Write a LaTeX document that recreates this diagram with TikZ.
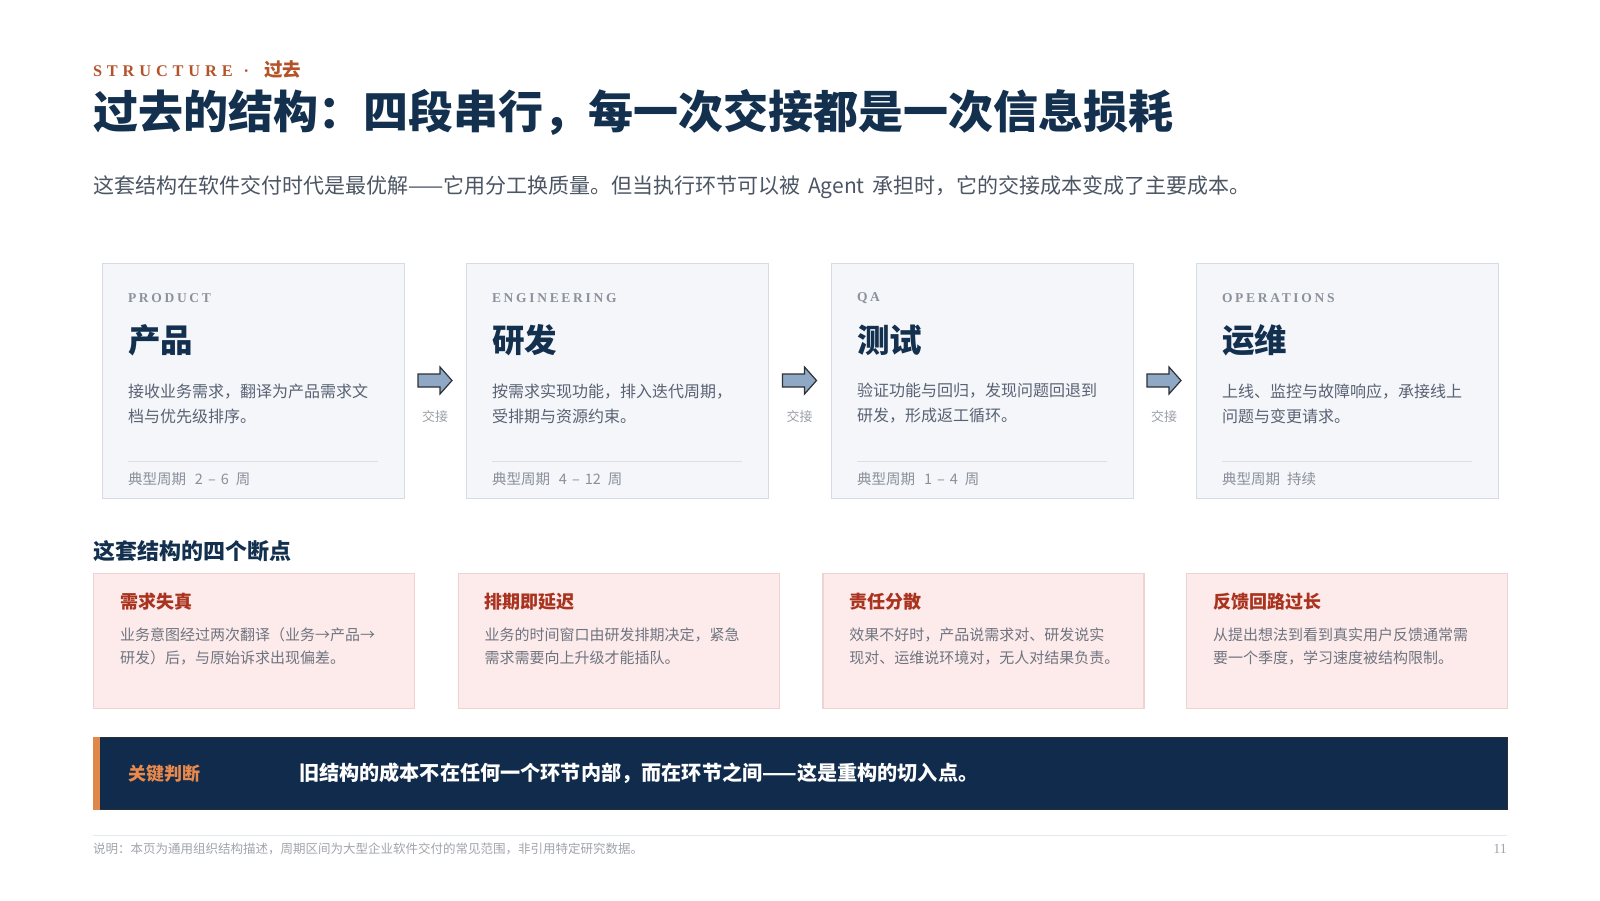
\documentclass[tikz,border=0pt]{standalone}
\usepackage{fontspec}
\setmainfont{Noto Sans CJK SC}
\newfontfamily\serifst[LetterSpace=30]{Liberation Serif}
\newfontfamily\serifsp[LetterSpace=20]{Liberation Serif}
\newfontfamily\serifpl{Liberation Serif}
\definecolor{navy}{HTML}{14304F}
\definecolor{kicker}{HTML}{B4532A}
\definecolor{subgray}{HTML}{4B5563}
\definecolor{cardfill}{HTML}{F4F6FA}
\definecolor{cardline}{HTML}{D6DCE4}
\definecolor{labelgray}{HTML}{8B929C}
\definecolor{descgray}{HTML}{596273}
\definecolor{sepgray}{HTML}{DADFE6}
\definecolor{metagray}{HTML}{8A909A}
\definecolor{arrowfill}{HTML}{8EA8C5}
\definecolor{arrowline}{HTML}{2E3136}
\definecolor{handgray}{HTML}{9A9FA6}
\definecolor{pinkfill}{HTML}{FCEBEA}
\definecolor{pinkline}{HTML}{EED3D0}
\definecolor{pinktitle}{HTML}{A9331F}
\definecolor{pinkbody}{HTML}{6F7480}
\definecolor{barfill}{HTML}{102B4B}
\definecolor{barstrip}{HTML}{E0874A}
\definecolor{barline}{HTML}{2B2F36}
\definecolor{barlabel}{HTML}{E9894B}
\definecolor{footline}{HTML}{E6E8EC}
\definecolor{foottext}{HTML}{A0A4AB}
\tikzset{
  txt/.style={anchor=west, inner sep=0pt, outer sep=0pt},
  stagebox/.style={draw=cardline, fill=cardfill, line width=1.3pt, inner sep=0pt,
    minimum width=302pt, minimum height=235pt, anchor=north west},
  stagelabel/.style={txt, text=labelgray, font=\fontsize{13.5}{16}\selectfont\serifsp\bfseries},
  stagetitle/.style={txt, text=navy, font=\fontsize{32.5}{38}\selectfont\bfseries},
  stagedesc/.style={txt, text=descgray, align=left, font=\fontsize{16}{25}\selectfont},
  stagemeta/.style={txt, text=metagray, font=\fontsize{14.5}{16}\selectfont},
  sepline/.style={draw=sepgray, line width=1pt},
  handoffarrow/.style={draw=arrowline, fill=arrowfill, line width=1.2pt, line join=miter},
  handofftext/.style={inner sep=0pt, text=handgray, font=\fontsize{13}{15}\selectfont},
  breakbox/.style={draw=pinkline, fill=pinkfill, line width=1.2pt, inner sep=0pt,
    minimum width=321pt, minimum height=135pt, anchor=north west},
  breaktitle/.style={txt, text=pinktitle, font=\fontsize{18}{22}\selectfont\bfseries},
  breakbody/.style={txt, text=pinkbody, align=left, font=\fontsize{15}{23}\selectfont},
}
\newcommand{\stagecard}[7]{%
  \node[stagebox] (#1) at (#2,263) {};
  \node[stagelabel] (#1-lab) at ({#2+26},298) {#3};
  \node[stagetitle] (#1-tit) at ({#2+26},340) {#4};
  \node[stagedesc] (#1-desc) at ({#2+26},403.5) {#5\\#6};
  \coordinate (#1-sa) at ({#2+26},461);
  \coordinate (#1-sb) at ({#2+276},461);
  \draw[sepline] (#1-sa) -- (#1-sb);
  \node[stagemeta] (#1-meta) at ({#2+26},479) {#7};
}
\newcommand{\breakcard}[5]{%
  \node[breakbox] (#1) at (#2,573) {};
  \node[breaktitle] (#1-tit) at ({#2+27},602) {#3};
  \node[breakbody] (#1-body) at ({#2+27},646.5) {#4\\#5};
}
\newcommand{\handoff}[2]{%
  \coordinate (#1) at (#2,380.5);
  \draw[handoffarrow, shift={(#1)}] (-17,-6.5) -- (5,-6.5) -- (5,-13.5) -- (17,0)
     -- (5,13.5) -- (5,6.5) -- (-17,6.5) -- cycle;
  \node[handofftext] (#1-t) at (#2,417) {交接};
}
\newcommand{\cyc}[3]{典型周期\hspace{9pt}#1\hspace{5pt}–\hspace{5pt}#2\hspace{7pt}#3}
\begin{document}
\begin{tikzpicture}[x=1pt, y=-1pt]
\fill[white] (0,0) rectangle (1600,900);
\useasboundingbox (0,0) rectangle (1600,900);

% header
\node[txt, text=kicker, font=\fontsize{16.3}{18}\selectfont] (kick) at (93,69)
  {{\serifst\bfseries STRUCTURE}\hspace{11pt}{\serifpl\bfseries ·}\hspace{15pt}{\fontsize{18.5}{18}\selectfont\bfseries 过去}};
\node[txt, text=navy, font=\fontsize{45}{54}\selectfont\bfseries] (title) at (93,112)
  {过去的结构：四段串行，每一次交接都是一次信息损耗};
\node[txt, text=subgray, font=\fontsize{21}{24}\selectfont] (sub) at (93,187)
  {这套结构在软件交付时代是最优解——它用分工换质量。但当执行环节可以被\hspace{8pt}Agent\hspace{8pt}承担时，它的交接成本变成了主要成本。};

% stage cards
\stagecard{prod}{102}{PRODUCT}{产品}{接收业务需求，翻译为产品需求文}{档与优先级排序。}{\cyc{2}{6}{周}}
\stagecard{eng}{466}{ENGINEERING}{研发}{按需求实现功能，排入迭代周期，}{受排期与资源约束。}{\cyc{4}{12}{周}}
\stagecard{qa}{831}{QA}{测试}{验证功能与回归，发现问题回退到}{研发，形成返工循环。}{\cyc{1}{4}{周}}
\stagecard{ops}{1196}{OPERATIONS}{运维}{上线、监控与故障响应，承接线上}{问题与变更请求。}{典型周期\hspace{7pt}持续}

\handoff{h1}{435}
\handoff{h2}{799.5}
\handoff{h3}{1164}

% break points
\node[txt, text=navy, font=\fontsize{22}{26}\selectfont\bfseries] (bphead) at (93,551) {这套结构的四个断点};
\breakcard{bp1}{93}{需求失真}{业务意图经过两次翻译（业务→产品→}{研发）后，与原始诉求出现偏差。}
\breakcard{bp2}{457.7}{排期即延迟}{业务的时间窗口由研发排期决定，紧急}{需求需要向上升级才能插队。}
\breakcard{bp3}{822.3}{责任分散}{效果不好时，产品说需求对、研发说实}{现对、运维说环境对，无人对结果负责。}
\breakcard{bp4}{1186}{反馈回路过长}{从提出想法到看到真实用户反馈通常需}{要一个季度，学习速度被结构限制。}

% key judgement bar
\node[draw=barline, fill=barfill, line width=1pt, inner sep=0pt, minimum width=1414pt,
  minimum height=72pt, anchor=north west] (bar) at (93,737) {};
\fill[barstrip] (bar.north west) rectangle ([xshift=7pt]bar.south west);
\node[txt, text=barlabel, font=\fontsize{18}{22}\selectfont\bfseries] (barlab) at (128,773.5) {关键判断};
\node[txt, text=white, font=\fontsize{20.15}{24}\selectfont\bfseries] (barmsg) at (299,773.5)
  {旧结构的成本不在任何一个环节内部，而在环节之间——这是重构的切入点。};

% footer
\coordinate (fa) at (93,835);
\coordinate (fb) at (1507,835);
\draw[footline, line width=1pt] (fa) -- (fb);
\node[txt, text=foottext, font=\fontsize{12.5}{15}\selectfont] (note) at (93,849)
  {说明：本页为通用组织结构描述，周期区间为大型企业软件交付的常见范围，非引用特定研究数据。};
\node[anchor=east, inner sep=0pt, text=foottext, font=\fontsize{14}{15}\selectfont\serifpl] (pageno) at (1507,849) {11};
\end{tikzpicture}
\end{document}
